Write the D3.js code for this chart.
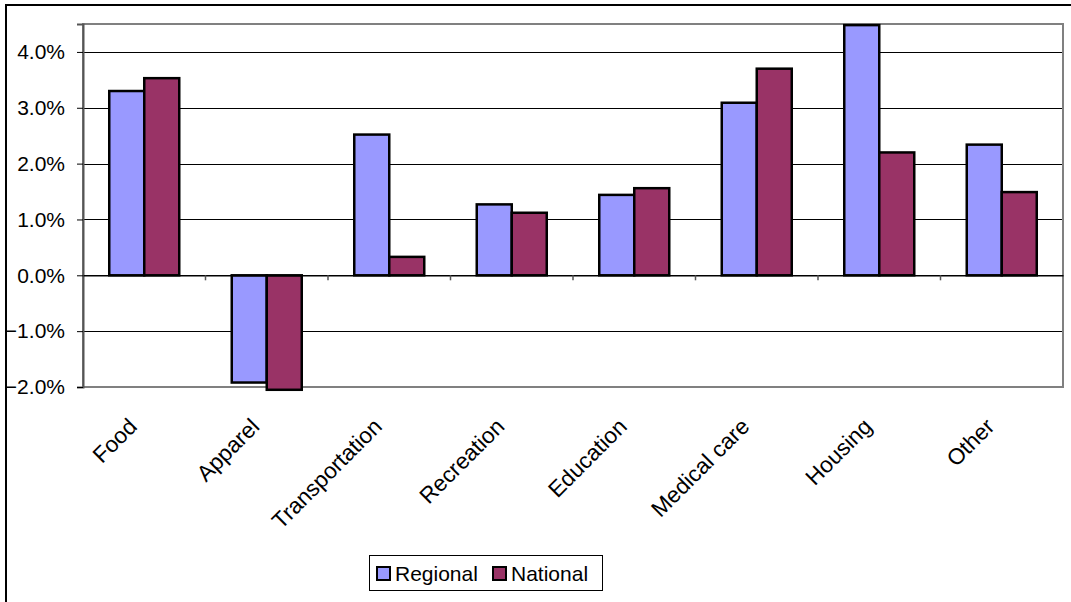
<!DOCTYPE html>
<html>
<head>
<meta charset="utf-8">
<script src="https://cdn.jsdelivr.net/npm/d3@7"></script>
<style>
  html, body { margin: 0; padding: 0; background: #fff; }
  svg { display: block; font-family: "Liberation Sans", Arial, sans-serif; }
</style>
</head>
<body>
<svg id="chart" width="1071" height="602"></svg>
<script>
// Year-over-year price change by spending category
const categories = ["Food", "Apparel", "Transportation", "Recreation", "Education", "Medical care", "Housing", "Other"];
const regional = [3.30, -1.92, 2.52, 1.27, 1.44, 3.09, 4.48, 2.34];
const national = [3.53, -2.05, 0.33, 1.12, 1.56, 3.70, 2.20, 1.49];
const seriesNames = ["Regional", "National"];
const seriesColors = ["#9999FF", "#993366"];
const yTicks = [-2, -1, 0, 1, 2, 3, 4];

const svg = d3.select("#chart");
const plot = { left: 83, right: 1063, top: 24, bottom: 387 };
const fontSize = 21;
const categoryFontSize = 22.5;

// Outer chart frame
svg.append("rect")
  .attr("x", 6).attr("y", 5)
  .attr("width", 1075).attr("height", 620)
  .attr("fill", "none").attr("stroke", "#000").attr("stroke-width", 2);

const x = d3.scaleBand().domain(categories).range([plot.left, plot.right]).padding(0);
const y = d3.scaleLinear().domain([-2, 4.5]).range([plot.bottom, plot.top]);

const barW = x.bandwidth() / 3.5;
const groupOffset = barW * 0.75;

// Gridlines
svg.append("g").selectAll("line").data(yTicks.filter(t => t !== -2)).join("line")
  .attr("x1", plot.left).attr("x2", plot.right)
  .attr("y1", d => Math.round(y(d)) + 0.5).attr("y2", d => Math.round(y(d)) + 0.5)
  .attr("stroke", "#000").attr("stroke-width", 1);

// Plot area border
svg.append("rect")
  .attr("x", plot.left).attr("y", plot.top)
  .attr("width", plot.right - plot.left).attr("height", plot.bottom - plot.top)
  .attr("fill", "none").attr("stroke", "#808080").attr("stroke-width", 2);

// Value axis
const yAxis = d3.axisLeft(y).tickValues(yTicks).tickSize(6).tickPadding(12)
  .tickFormat(d => d3.format(".1f")(d) + "%");
const yg = svg.append("g").attr("transform", `translate(${plot.left},0)`).call(yAxis);
yg.select(".domain").attr("stroke", "#555").attr("stroke-width", 2);
yg.selectAll(".tick line").attr("stroke", "#000");
yg.selectAll(".tick text").attr("font-size", fontSize).attr("fill", "#000")
  .attr("font-family", "Liberation Sans, Arial, sans-serif");

// Bars
const series = [regional, national];
series.forEach((vals, si) => {
  svg.append("g").selectAll("rect").data(vals).join("rect")
    .attr("x", (d, i) => x(categories[i]) + groupOffset + si * barW)
    .attr("y", d => y(Math.max(0, d)))
    .attr("width", barW)
    .attr("height", d => Math.abs(y(d) - y(0)))
    .attr("fill", seriesColors[si])
    .attr("stroke", "#000").attr("stroke-width", 2.5);
});

// Category axis at zero
const xAxis = d3.axisBottom(x).tickSize(0).tickFormat("");
const xg = svg.append("g").attr("transform", `translate(0,${y(0)})`).call(xAxis);
xg.select(".domain").attr("stroke", "#000").attr("stroke-width", 1.5);
// Tick marks at category boundaries
svg.append("g").selectAll("line").data(categories.slice(1)).join("line")
  .attr("x1", d => x(d)).attr("x2", d => x(d))
  .attr("y1", y(0)).attr("y2", y(0) + 5)
  .attr("stroke", "#555").attr("stroke-width", 1.5);

// Rotated category labels below the plot
svg.append("g").selectAll("text").data(categories).join("text")
  .attr("transform", d => `translate(${x(d) + x.bandwidth() / 2 - 6},${plot.bottom + 41}) rotate(-45)`)
  .attr("text-anchor", "end")
  .attr("font-size", categoryFontSize)
  .attr("fill", "#000")
  .text(d => d);

// Legend
const legend = svg.append("g");
legend.append("rect")
  .attr("x", 369.5).attr("y", 555.5).attr("width", 233).attr("height", 35)
  .attr("fill", "#fff").attr("stroke", "#000").attr("stroke-width", 1);
const legendX = [377, 493];
seriesNames.forEach((name, i) => {
  legend.append("rect")
    .attr("x", legendX[i]).attr("y", 567).attr("width", 13).attr("height", 13)
    .attr("fill", seriesColors[i]).attr("stroke", "#000").attr("stroke-width", 2);
  legend.append("text")
    .attr("x", legendX[i] + 18).attr("y", 581)
    .attr("font-size", fontSize).attr("fill", "#000")
    .text(name);
});
</script>
</body>
</html>
